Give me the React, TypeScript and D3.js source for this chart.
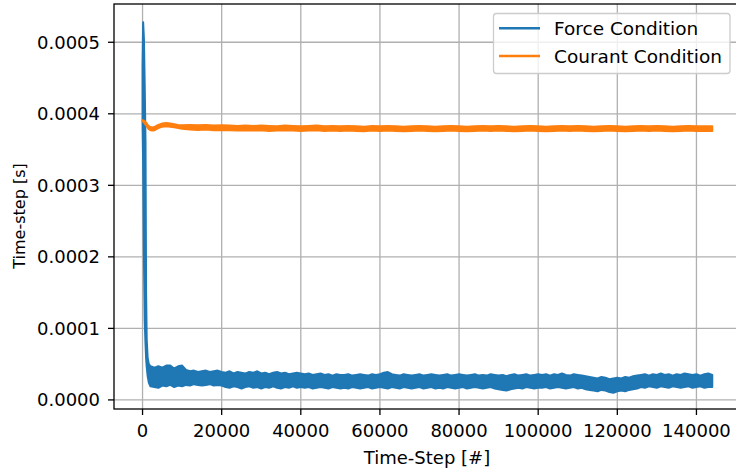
import React from "react";
import * as d3 from "d3";

// ---------- data (values in microseconds, i.e. 1e-6 s) ----------
// Force condition: envelope of the noisy signal (lower / upper), early spike part
const forceEarlySteps = [0, 150, 350, 550, 750, 900, 1050, 1300, 1600, 2000];
const forceEarlyLo = [390, 330, 200, 110, 78, 58, 46, 33, 24, 19];
const forceEarlyHi = [468, 528, 505, 440, 360, 150, 85, 58, 50, 47];

// Force condition: every 1000 steps from 3000 to 144000
const forceStart = 3000;
const forceStride = 1000;
const forceHi = [
  45, 47, 45, 48, 48, 44, 47, 48,
  42, 40, 41, 39, 40, 41, 39, 40, 41, 39,
  38, 40, 37, 39, 38, 37, 39, 38, 40, 37, 38, 36, 38, 39, 37, 38, 36, 37, 38, 37,
  36, 37, 35, 36, 37, 35, 36, 34, 36, 35,
  35, 36, 34, 35, 36, 35, 34, 36, 35, 36, 38, 39, 36, 35, 34, 36, 35, 34, 35, 36,
  34, 35, 36, 35, 34, 35, 36, 34, 35, 36, 35, 34, 35, 36, 34, 35, 34, 36, 35, 34,
  35, 33, 35, 36, 34, 35, 36, 34, 35, 36,
  35, 36, 34, 36, 35, 37, 35, 34, 36, 35, 34, 33, 32,
  31, 30, 32, 31, 29, 30, 31, 30, 32, 31, 33, 34,
  35, 36, 34, 36, 35, 37, 35, 36, 34, 36, 35, 37, 36, 35, 36, 34, 36, 37, 35,
];
const forceLo = [
  18, 17, 20, 19, 21, 18, 20, 19,
  21, 20, 22, 21, 20, 21, 22, 20, 21, 20,
  18, 17, 19, 18, 16, 18, 19, 17, 18, 16, 18, 17, 19, 17, 16, 18, 17, 19, 17, 18,
  17, 18, 16, 17, 18, 17, 16, 18, 17, 16,
  17, 16, 18, 17, 16, 17, 18, 16, 17, 18, 17, 16, 18, 17, 16, 18, 17, 16, 17, 18,
  16, 17, 18, 16, 17, 16, 18, 17, 16, 17, 18, 16, 17, 18, 17, 16, 17, 18, 16, 15,
  14, 13, 15, 16, 17, 16, 18, 17, 16, 17,
  17, 18, 16, 17, 18, 17, 16, 17, 18, 16, 17, 15, 14,
  13, 12, 14, 13, 11, 10, 12, 13, 12, 14, 15, 16,
  18, 17, 19, 18, 17, 19, 18, 17, 19, 18, 17, 18, 19, 17, 18, 19, 17, 18, 18,
];

// Courant condition: early transient
const courantEarlySteps = [0, 500, 1000, 1500, 2000, 2500, 3000, 3500, 4000, 5000, 6000, 7000, 8000, 9000, 10000];
const courantEarlyLo = [390, 387, 383, 379, 377, 376.5, 377, 378.5, 380, 382, 382.5, 382, 381, 380, 379];
const courantEarlyHi = [391, 390, 387, 383, 381.5, 381, 381.5, 383, 384.5, 386.5, 387, 386.5, 385.5, 384.5, 384];

// Courant condition: every 2000 steps from 12000 to 144000
const courantStart = 12000;
const courantStride = 2000;
const courantLo = [
  378, 377.5, 378, 377, 377.5, 377, 376.5, 377, 376.5, 377, 376, 376.5, 377, 376.5, 376, 376.5, 377, 376, 376.5, 376,
  376.5, 376, 375.5, 376.5, 376, 376.5, 376, 375.5, 376, 376.5, 376, 375.5, 376, 376.5, 376, 375.5, 376, 376.5, 376, 376.5,
  376, 375.5, 376, 376.5, 376, 375.5, 376, 376.5, 376, 376.5, 376, 375.5, 376, 376.5, 376, 375.5, 376, 376.5, 376, 376.5,
  376, 375.5, 376, 376.5, 376, 376, 376,
];
const courantHi = [
  384.5, 384, 384.5, 383.5, 384, 383.5, 383, 383.5, 383, 383.5, 383, 382.5, 383.5, 383, 382.5, 383, 383.5, 382.5, 383, 382.5,
  383, 382.5, 382, 383, 382.5, 383, 382.5, 382, 382.5, 383, 382.5, 382, 382.5, 383, 382.5, 382, 382.5, 383, 382.5, 383,
  382.5, 382, 382.5, 383, 382.5, 382, 382.5, 383, 382.5, 383, 382.5, 382, 382.5, 383, 382.5, 382, 382.5, 383, 382.5, 383,
  382.5, 382, 382.5, 383, 382.5, 382.5, 382.5,
];

const xTicks = [0, 20000, 40000, 60000, 80000, 100000, 120000, 140000];
const yTicks = [0, 0.0001, 0.0002, 0.0003, 0.0004, 0.0005];
const yTickLabels = ["0.0000", "0.0001", "0.0002", "0.0003", "0.0004", "0.0005"];
const seriesNames = ["Force Condition", "Courant Condition"];
const seriesColors = ["#1f77b4", "#ff7f0e"];

type Pt = { s: number; lo: number; hi: number };

function buildSeries(
  earlySteps: number[], earlyLo: number[], earlyHi: number[],
  start: number, stride: number, lo: number[], hi: number[]
): Pt[] {
  const pts: Pt[] = earlySteps.map((s, i) => ({ s, lo: earlyLo[i] * 1e-6, hi: earlyHi[i] * 1e-6 }));
  const n = Math.min(lo.length, hi.length);
  for (let i = 0; i < n; i++) pts.push({ s: start + i * stride, lo: lo[i] * 1e-6, hi: hi[i] * 1e-6 });
  return pts;
}

const force = buildSeries(forceEarlySteps, forceEarlyLo, forceEarlyHi, forceStart, forceStride, forceLo, forceHi);
const courant = buildSeries(courantEarlySteps, courantEarlyLo, courantEarlyHi, courantStart, courantStride, courantLo, courantHi);

export default function App() {
  const W = 736, H = 472;
  const left = 114, top = 4, bottom = 409;
  const xMaxData = 144300;
  const right = 742;
  const x = d3.scaleLinear().domain([-0.05 * xMaxData, 1.05 * xMaxData]).range([left, right]);
  const y = d3.scaleLinear().domain([-12.7e-6, 553.5e-6]).range([bottom, top]);

  const area = d3.area<Pt>().x((d) => x(d.s)).y0((d) => y(d.lo)).y1((d) => y(d.hi));
  const font = "'DejaVu Sans', sans-serif";
  const fs = 18;
  const gridColor = "#b0b0b0";

  return (
    <div style={{ position: "absolute", left: 0, top: 0 }}>
      <svg width={W} height={H} style={{ display: "block", background: "#fff" }}>
        <defs>
          <clipPath id="plotclip">
            <rect x={left} y={top} width={right - left} height={bottom - top} />
          </clipPath>
        </defs>
        {/* grid */}
        <g>
          {xTicks.map((t) => (
            <line key={"gx" + t} x1={x(t)} x2={x(t)} y1={top} y2={bottom} stroke={gridColor} strokeWidth={1.3} />
          ))}
          {yTicks.map((t) => (
            <line key={"gy" + t} x1={left} x2={right} y1={y(t)} y2={y(t)} stroke={gridColor} strokeWidth={1.3} />
          ))}
        </g>
        {/* series */}
        <g clipPath="url(#plotclip)">
          <path d={area(force) || ""} fill={seriesColors[0]} stroke={seriesColors[0]} strokeWidth={2} strokeLinejoin="round" />
          <path d={area(courant) || ""} fill={seriesColors[1]} stroke={seriesColors[1]} strokeWidth={2} strokeLinejoin="round" />
        </g>
        {/* spines */}
        <rect x={left} y={top} width={right - left} height={bottom - top} fill="none" stroke="#000" strokeWidth={1.3} />
        {/* x ticks */}
        {xTicks.map((t) => (
          <g key={"xt" + t}>
            <line x1={x(t)} x2={x(t)} y1={bottom} y2={bottom + 6} stroke="#000" strokeWidth={1.3} />
            <text x={x(t)} y={437} textAnchor="middle" fontFamily={font} fontSize={fs} fill="#000">
              {String(t)}
            </text>
          </g>
        ))}
        {/* y ticks */}
        {yTicks.map((t, i) => (
          <g key={"yt" + t}>
            <line x1={left - 6} x2={left} y1={y(t)} y2={y(t)} stroke="#000" strokeWidth={1.3} />
            <text x={100} y={y(t)} dy="0.36em" textAnchor="end" fontFamily={font} fontSize={fs} fill="#000">
              {yTickLabels[i]}
            </text>
          </g>
        ))}
        {/* axis labels */}
        <text x={(left + 736) / 2 + 2} y={464} textAnchor="middle" fontFamily={font} fontSize={fs} fill="#000">
          Time-Step [#]
        </text>
        <text
          transform={`translate(25, 216) rotate(-90)`}
          textAnchor="middle"
          fontFamily={font}
          fontSize={16}
          fill="#000"
        >
          Time-step [s]
        </text>
        {/* legend */}
        <g>
          <rect x={493.5} y={13.5} width={236.5} height={60} rx={3} fill="#fff" fillOpacity={0.8} stroke="#cccccc" strokeWidth={1.3} />
          {seriesNames.map((name, i) => (
            <g key={name}>
              <line x1={499} x2={540} y1={28.3 + i * 27.7} y2={28.3 + i * 27.7} stroke={seriesColors[i]} strokeWidth={2.6} />
              <text x={554} y={35 + i * 27.7} fontFamily={font} fontSize={18.5} fill="#000">
                {name}
              </text>
            </g>
          ))}
        </g>
      </svg>
    </div>
  );
}
